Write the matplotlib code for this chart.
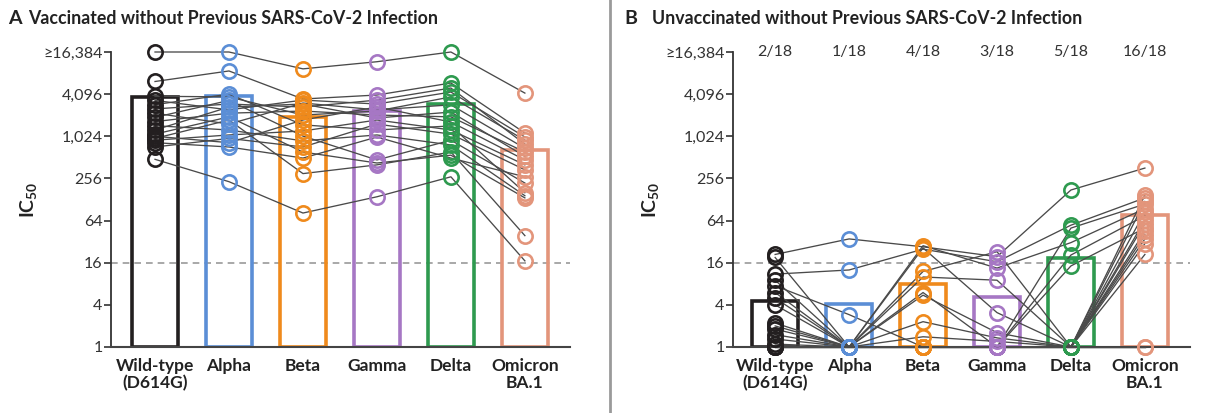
import matplotlib
matplotlib.use("Agg")
import matplotlib.pyplot as plt
from matplotlib.lines import Line2D

plt.rcParams['font.family'] = ['Lato', 'DejaVu Sans']
plt.rcParams['mathtext.default'] = 'regular'

variants = ["Wild-type\n(D614G)", "Alpha", "Beta", "Gamma", "Delta", "Omicron\nBA.1"]
colors = ["#231f20", "#5b8ed6", "#ef8a1c", "#a677c4", "#2e9a4f", "#e3957b"]

ytick_vals = [1, 4, 16, 64, 256, 1024, 4096, 16384]
ytick_labels = ["1", "4", "16", "64", "256", "1,024", "4,096", "≥16,384"]

# panel A: vaccinated, IC50 per participant (same participant order in every list)
vacc_wt = [16384, 6210, 480, 3820, 3330, 2900, 2520, 2190, 1910, 1660, 1450, 1260, 1100, 1024, 955, 900, 830, 720]
vacc_alpha = [16384, 8780, 230, 3740, 2440, 4096, 2960, 1530, 3330, 2190, 1260, 2680, 1940, 830, 1750, 1070, 720, 955]
vacc_beta = [9410, 3490, 82, 2060, 3370, 1490, 2680, 3060, 1030, 2350, 880, 2960, 610, 1750, 300, 1220, 500, 720]
vacc_gamma = [11900, 3980, 140, 2350, 2960, 1260, 3370, 2440, 470, 2060, 1070, 1870, 425, 2680, 400, 1750, 1000, 1530]
vacc_delta = [16384, 5910, 270, 3740, 4390, 1440, 5010, 2880, 900, 1940, 770, 2270, 550, 1640, 610, 1260, 500, 1100]
vacc_omicron = [4240, 1140, 17, 900, 1000, 160, 790, 690, 220, 610, 145, 530, 135, 470, 39, 400, 270, 340]
vacc_gmt = [3700, 3900, 1900, 2350, 2960, 650]

# panel B: unvaccinated
unvacc_wt = [21, 19, 11, 9, 7.5, 6, 5, 4, 2.2, 2, 1.8, 1.5, 1.3, 1.1, 1, 1, 1, 1]
unvacc_alpha = [35, 1, 12.6, 1, 2.9, 1, 1, 1, 1, 1, 1, 1, 1, 1, 1, 1, 1, 1]
unvacc_beta = [27, 1, 25, 12, 1, 28, 10, 6, 26, 5.5, 1, 2.3, 1.4, 1, 1, 1, 1, 1]
unvacc_gamma = [19.5, 1, 16.5, 23, 1, 13.4, 9, 1, 3.1, 1.6, 1, 1.35, 1.2, 1, 1, 1, 1, 1]
unvacc_delta = [175, 1, 55, 1, 50, 31, 1, 20.6, 1, 1, 14.4, 1, 1, 1, 1, 1, 1, 1]
unvacc_omicron = [360, 148, 135, 120, 110, 95, 85, 75, 65, 58, 50, 45, 40, 35, 30, 21, 1, 1]
unvacc_gmt = [4.5, 4.1, 8.0, 5.2, 18.7, 77]
unvacc_counts = ["2/18", "1/18", "4/18", "3/18", "5/18", "16/18"]


def draw_panel(ax, series, gmt, xlim):
    x = list(range(len(series)))
    ax.set_yscale('log', base=2)
    ax.set_ylim(1, 16384)
    ax.set_xlim(*xlim)
    for i in x:
        ax.bar(i, gmt[i] - 1, bottom=1, width=0.62, fill=False,
               edgecolor=colors[i], linewidth=2.6, zorder=2)
    n = len(series[0])
    for s in range(n):
        ax.plot(x, [series[v][s] for v in x], color="#4a4a4a", lw=0.95,
                zorder=3, clip_on=False)
    for i in x:
        ax.plot([i] * n, series[i], 'o', ms=10.3, mfc='none', mec=colors[i],
                mew=1.9, zorder=4, clip_on=False)
    ax.axhline(16, color="#999999", lw=1.2, dashes=(4, 3), zorder=1)
    for sp in ['top', 'right']:
        ax.spines[sp].set_visible(False)
    ax.spines['left'].set_linewidth(1.3)
    ax.spines['left'].set_color("#333333")
    ax.spines['bottom'].set_linewidth(1.5)
    ax.spines['bottom'].set_color("#444444")
    ax.set_yticks(ytick_vals)
    ax.set_yticklabels(ytick_labels, fontsize=11.5, color="#333333")
    ax.yaxis.set_minor_locator(plt.NullLocator())
    ax.tick_params(axis='y', length=5, width=1.2, color="#333333", pad=1)
    ax.set_xticks(x)
    ax.set_xticklabels(variants, fontsize=12.5, fontweight='bold', color="#222222",
                       linespacing=1.1)
    ax.tick_params(axis='x', length=0, pad=8)
    ax.set_ylabel("IC$_{50}$", fontsize=14, fontweight='bold', color="#222222",
                  labelpad=3)


fig = plt.figure(figsize=(12.21, 4.13), dpi=100)
bottom = 1 - 347 / 413
height = (347 - 52) / 413

axA = fig.add_axes([111 / 1221, bottom, 459 / 1221, height])
draw_panel(axA, [vacc_wt, vacc_alpha, vacc_beta, vacc_gamma, vacc_delta, vacc_omicron],
           vacc_gmt, (-0.595, 5.61))

axB = fig.add_axes([733 / 1221, bottom, 457 / 1221, height])
draw_panel(axB, [unvacc_wt, unvacc_alpha, unvacc_beta, unvacc_gamma, unvacc_delta, unvacc_omicron],
           unvacc_gmt, (-0.57, 5.61))
for i, c in enumerate(unvacc_counts):
    axB.text(i, 16384, c, ha='center', va='center', fontsize=11.5, color="#333333")

fig.add_artist(Line2D([610 / 1221, 610 / 1221], [0, 1], transform=fig.transFigure,
                      color="#9a9a9a", lw=2))

fig.text(8 / 1221, 1 - 18 / 413, "A", fontsize=14, fontweight='bold', va='center', color="#222222")
fig.text(28 / 1221, 1 - 18 / 413, "Vaccinated without Previous SARS-CoV-2 Infection",
         fontsize=12.8, fontweight='bold', va='center', color="#222222")
fig.text(624 / 1221, 1 - 18 / 413, "B", fontsize=14, fontweight='bold', va='center', color="#222222")
fig.text(652 / 1221, 1 - 18 / 413, "Unvaccinated without Previous SARS-CoV-2 Infection",
         fontsize=12.8, fontweight='bold', va='center', color="#222222")

fig.savefig("out.png", dpi=100)
